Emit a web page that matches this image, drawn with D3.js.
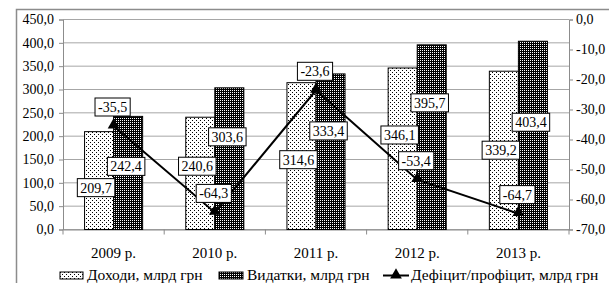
<!DOCTYPE html>
<html>
<head>
<meta charset="utf-8">
<script src="https://cdn.jsdelivr.net/npm/d3@7"></script>
<style>
  body { margin: 0; background: #fff; }
  svg text { font-family: "Liberation Serif", "Times New Roman", serif; font-size: 14px; fill: #000; }
  svg .xaxis text { font-size: 15px; }
  svg .legend text { font-size: 15.5px; }
</style>
</head>
<body>
<div id="chart"></div>
<script>
const years = ["2009 р.", "2010 р.", "2011 р.", "2012 р.", "2013 р."];
const income = [209.7, 240.6, 314.6, 346.1, 339.2];
const spending = [242.4, 303.6, 333.4, 395.7, 403.4];
const deficit = [-35.5, -64.3, -23.6, -53.4, -64.7];
const leftTicks = [0, 50, 100, 150, 200, 250, 300, 350, 400, 450];
const rightTicks = [0, -10, -20, -30, -40, -50, -60, -70];
const names = ["Доходи, млрд грн", "Видатки, млрд грн", "Дефіцит/профіцит, млрд грн"];

// hand placement of the bar labels (px below bar top), like in the original
const incomeLabelDy = [56, 49, 77, 67, 79];
const spendLabelDy = [50, 49, 57, 58, 81];

var width = 609, height = 283;
var margin = {top: 19.5, right: 40, bottom: 54, left: 63};

var svg = d3.select("#chart")
  .append("svg")
    .attr("width", width)
    .attr("height", height);

var defs = svg.append("defs");
// light dotted fill
var p1 = defs.append("pattern").attr("id", "light")
  .attr("patternUnits", "userSpaceOnUse").attr("width", 4).attr("height", 4);
p1.append("rect").attr("width", 4).attr("height", 4).attr("fill", "#fff");
p1.append("rect").attr("x", 0).attr("y", 0).attr("width", 1).attr("height", 1).attr("fill", "#000");
p1.append("rect").attr("x", 2).attr("y", 2).attr("width", 1).attr("height", 1).attr("fill", "#000");
// dark dotted fill
var p2 = defs.append("pattern").attr("id", "dark")
  .attr("patternUnits", "userSpaceOnUse").attr("width", 2).attr("height", 2);
p2.append("rect").attr("width", 2).attr("height", 2).attr("fill", "#000");
p2.append("rect").attr("x", 0).attr("y", 0).attr("width", 1).attr("height", 1).attr("fill", "#fff");

// outer frame (runs off the picture on the right and bottom)
svg.append("rect")
  .attr("x", 16.5).attr("y", 9.5)
  .attr("width", 620).attr("height", 300)
  .attr("fill", "none").attr("stroke", "#8c8c8c").attr("stroke-width", 1.5);

var x = d3.scaleBand()
  .domain(years)
  .range([margin.left, width - margin.right]);
var yL = d3.scaleLinear().domain([0, 450]).range([229.5, margin.top]);
var yR = d3.scaleLinear().domain([-70, 0]).range([229.5, margin.top]);

var fmt = d => d.toFixed(1).replace(".", ",");

// gridlines
svg.append("g")
  .selectAll("line")
  .data(leftTicks)
  .enter()
  .append("line")
    .attr("x1", x.range()[0]).attr("x2", x.range()[1])
    .attr("y1", d => yL(d)).attr("y2", d => yL(d))
    .attr("stroke", "#a6a6a6").attr("stroke-width", 1);

// axes
var yAxisL = svg.append("g")
  .attr("transform", "translate(" + x.range()[0] + ",0)")
  .call(d3.axisLeft(yL).tickValues(leftTicks).tickSize(4).tickPadding(5).tickFormat(fmt));
var yAxisR = svg.append("g")
  .attr("transform", "translate(" + x.range()[1] + ",0)")
  .call(d3.axisRight(yR).tickValues(rightTicks).tickSize(4).tickPadding(3).tickFormat(fmt));
var xAxis = svg.append("g")
  .attr("class", "xaxis")
  .attr("transform", "translate(0," + yL(0) + ")")
  .call(d3.axisBottom(x).tickSize(0).tickPadding(18));

// category separators on x axis
svg.append("g")
  .selectAll("line")
  .data(d3.range(years.length + 1))
  .enter()
  .append("line")
    .attr("x1", i => x.range()[0] + i * x.step()).attr("x2", i => x.range()[0] + i * x.step())
    .attr("y1", yL(0)).attr("y2", yL(0) + 5)
    .attr("stroke", "#8c8c8c");

[yAxisL, yAxisR, xAxis].forEach(function(a) {
  a.attr("font-family", null).attr("font-size", null);
  a.selectAll("path").attr("stroke", "#8c8c8c");
  a.selectAll("line").attr("stroke", "#8c8c8c");
});

var barW = x.bandwidth() * 0.287;

// bars
svg.append("g")
  .selectAll("rect")
  .data(income)
  .enter()
  .append("rect")
    .attr("x", (d, i) => x(years[i]) + x.bandwidth() / 2 - barW)
    .attr("y", d => yL(d))
    .attr("width", barW)
    .attr("height", d => yL(0) - yL(d))
    .attr("fill", "url(#light)").attr("stroke", "#000").attr("stroke-width", 1);

svg.append("g")
  .selectAll("rect")
  .data(spending)
  .enter()
  .append("rect")
    .attr("x", (d, i) => x(years[i]) + x.bandwidth() / 2)
    .attr("y", d => yL(d))
    .attr("width", barW)
    .attr("height", d => yL(0) - yL(d))
    .attr("fill", "url(#dark)").attr("stroke", "#000").attr("stroke-width", 1);

// deficit line
var line = d3.line()
  .x((d, i) => x(years[i]) + x.bandwidth() / 2)
  .y(d => yR(d));
svg.append("path")
  .datum(deficit)
  .attr("d", line)
  .attr("fill", "none").attr("stroke", "#000").attr("stroke-width", 2);

var tri = d3.symbol().type(d3.symbolTriangle).size(60);
svg.append("g")
  .selectAll("path")
  .data(deficit)
  .enter()
  .append("path")
    .attr("d", tri)
    .attr("transform", (d, i) => "translate(" + (x(years[i]) + x.bandwidth() / 2) + "," + (yR(d) - 1) + ")")
    .attr("fill", "#000");

// boxed value labels
function boxLabel(g, cx, cy, txt) {
  var grp = g.append("g");
  var t = grp.append("text")
    .attr("x", cx).attr("y", cy + 5)
    .attr("text-anchor", "middle")
    .text(txt);
  var w = t.node().getComputedTextLength() + 6;
  grp.insert("rect", "text")
    .attr("x", cx - w / 2).attr("y", cy - 9)
    .attr("width", w).attr("height", 18)
    .attr("fill", "#fff").attr("stroke", "#000").attr("stroke-width", 1);
}

var labels = svg.append("g");
income.forEach(function(d, i) {
  boxLabel(labels, x(years[i]) + x.bandwidth() / 2 - barW / 2 - 3, yL(d) + incomeLabelDy[i], fmt(d));
});
spending.forEach(function(d, i) {
  boxLabel(labels, x(years[i]) + x.bandwidth() / 2 + barW / 2 - 2, yL(d) + spendLabelDy[i], fmt(d));
});
deficit.forEach(function(d, i) {
  boxLabel(labels, x(years[i]) + x.bandwidth() / 2 - 1, yR(d) - 19, fmt(d));
});

// legend
var leg = svg.append("g").attr("class", "legend").attr("transform", "translate(0,272)");
leg.append("rect").attr("x", 60).attr("y", 0).attr("width", 23).attr("height", 7)
  .attr("fill", "url(#light)").attr("stroke", "#000");
leg.append("text").attr("x", 87).attr("y", 7.5).text(names[0]);
leg.append("rect").attr("x", 219).attr("y", 0).attr("width", 24).attr("height", 7)
  .attr("fill", "url(#dark)").attr("stroke", "#000");
leg.append("text").attr("x", 247).attr("y", 7.5).text(names[1]);
leg.append("line").attr("x1", 383).attr("x2", 409).attr("y1", 3.5).attr("y2", 3.5)
  .attr("stroke", "#000").attr("stroke-width", 2);
leg.append("path").attr("d", tri).attr("transform", "translate(396,3)").attr("fill", "#000");
leg.append("text").attr("x", 411).attr("y", 7.5).text(names[2]);
</script>
</body>
</html>
